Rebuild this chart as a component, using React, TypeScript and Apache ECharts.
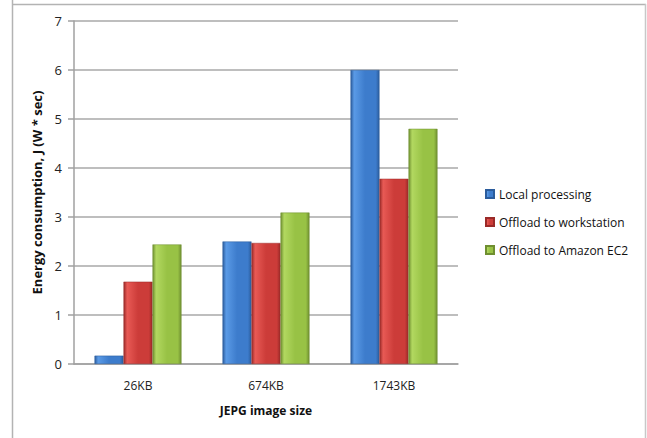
import React, { useEffect, useRef } from "react";
import * as echarts from "echarts";

const categories = ["26KB", "674KB", "1743KB"];
const localProcessing = [0.17, 2.5, 6.0];
const offloadWorkstation = [1.68, 2.47, 3.78];
const offloadAmazon = [2.44, 3.09, 4.8];
const seriesNames = ["Local processing", "Offload to workstation", "Offload to Amazon EC2"];

function bevel(light: string, mid: string, dark: string) {
  return new echarts.graphic.LinearGradient(0, 0, 1, 0, [
    { offset: 0, color: dark },
    { offset: 0.12, color: light },
    { offset: 0.5, color: mid },
    { offset: 0.88, color: mid },
    { offset: 1, color: dark },
  ]);
}

export default function App() {
  const ref = useRef<HTMLDivElement>(null);
  useEffect(() => {
    if (!ref.current) return;
    const chart = echarts.init(ref.current, null, { renderer: "svg" });
    const font = "'Open Sans', 'Noto Sans', sans-serif";
    const mk = (name: string, data: number[], light: string, mid: string, dark: string, legendColor: string) => ({
      name,
      type: "bar",
      data,
      barWidth: 29,
      barGap: "0%",
      itemStyle: { color: bevel(light, mid, dark), borderColor: dark, borderWidth: 0.5 },
      color: legendColor,
    });
    chart.setOption({
      animation: false,
      textStyle: { fontFamily: font },
      graphic: [
        { type: "line", shape: { x1: 12.5, y1: 0, x2: 12.5, y2: 438 }, style: { stroke: "#b3b3b3", lineWidth: 1.5 } },
        { type: "line", shape: { x1: 12, y1: 4.5, x2: 646, y2: 4.5 }, style: { stroke: "#b3b3b3", lineWidth: 1.5 } },
        { type: "line", shape: { x1: 645.5, y1: 4, x2: 645.5, y2: 438 }, style: { stroke: "#c8c8c8", lineWidth: 1.5 } },
      ],
      legend: {
        orient: "vertical",
        left: 480,
        top: 183,
        itemWidth: 8,
        itemHeight: 8,
        itemGap: 16,
        icon: "rect",
        textStyle: { fontFamily: font, fontSize: 12, color: "#111" },
        data: seriesNames,
      },
      grid: { left: 74, top: 21, right: 189, bottom: 74 },
      xAxis: {
        type: "category",
        data: categories,
        name: "JEPG image size",
        nameLocation: "middle",
        nameGap: 40,
        nameTextStyle: { fontFamily: font, fontSize: 12, fontWeight: "bold", color: "#111" },
        axisLine: { lineStyle: { color: "#a0a0a0", width: 1.5 } },
        axisTick: { show: false },
        axisLabel: { fontFamily: font, fontSize: 12, color: "#222", margin: 15 },
      },
      yAxis: {
        type: "value",
        min: 0,
        max: 7,
        interval: 1,
        name: "Energy consumption, J (W * sec)",
        nameLocation: "middle",
        nameGap: 28,
        nameTextStyle: { fontFamily: font, fontSize: 13, fontWeight: "bold", color: "#111" },
        axisLine: { show: true, lineStyle: { color: "#a0a0a0", width: 1.5 } },
        axisTick: { show: true, length: 6, lineStyle: { color: "#a0a0a0", width: 1.5 } },
        splitLine: { lineStyle: { color: "#a8a8a8", width: 1.5 } },
        axisLabel: { fontFamily: font, fontSize: 13, color: "#222", margin: 12 },
      },
      series: [
        mk(seriesNames[0], localProcessing, "#5a9ae6", "#3d7ccc", "#2b5c9c", "#3d7ccc"),
        mk(seriesNames[1], offloadWorkstation, "#e85a55", "#cc3c39", "#9a2a28", "#cc3c39"),
        mk(seriesNames[2], offloadAmazon, "#b2d860", "#98c245", "#6f8f30", "#98c245"),
      ],
    });
    return () => chart.dispose();
  }, []);
  return <div ref={ref} style={{ position: "fixed", left: 0, top: 0, width: 647, height: 438, background: "#fff" }} />;
}
